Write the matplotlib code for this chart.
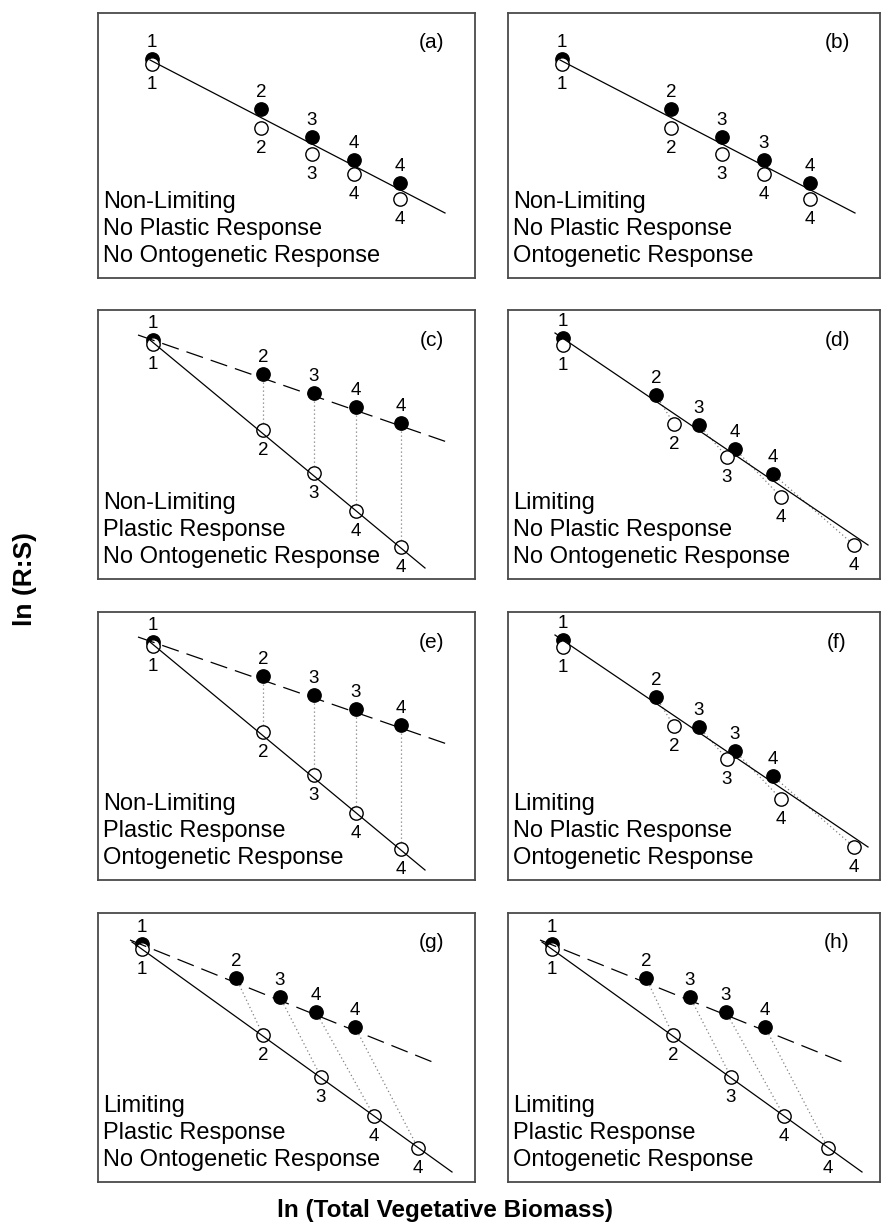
import matplotlib
matplotlib.use('Agg')
import matplotlib.pyplot as plt

plt.rcParams['font.family'] = ['Liberation Sans', 'DejaVu Sans']

FIG_W, FIG_H = 881, 1231

# ---------------- data (box-relative units, y measured downward) ----------------
PANEL_TAGS = ['(a)', '(b)', '(c)', '(d)', '(e)', '(f)', '(g)', '(h)']

A_FILLED_X = [54, 163, 214, 256, 302]
A_FILLED_Y = [46, 96, 124, 147, 170]
A_OPEN_X = [54, 163, 214, 256, 302]
A_OPEN_Y = [51, 115, 141, 161, 186]
A_FILLED_LABELS = ['1', '2', '3', '4', '4']
A_OPEN_LABELS = ['1', '2', '3', '4', '4']
A_SOLID = [(52, 47), (347, 200)]
A_TEXT = ['Non-Limiting', 'No Plastic Response', 'No Ontogenetic Response']

B_FILLED_X = [54, 163, 214, 256, 302]
B_FILLED_Y = [46, 96, 124, 147, 170]
B_OPEN_X = [54, 163, 214, 256, 302]
B_OPEN_Y = [51, 115, 141, 161, 186]
B_FILLED_LABELS = ['1', '2', '3', '3', '4']
B_OPEN_LABELS = ['1', '2', '3', '4', '4']
B_SOLID = [(52, 47), (347, 200)]
B_TEXT = ['Non-Limiting', 'No Plastic Response', 'Ontogenetic Response']

C_FILLED_X = [55, 165, 216, 258, 303]
C_FILLED_Y = [30, 64, 83, 97, 113]
C_OPEN_X = [55, 165, 216, 258, 303]
C_OPEN_Y = [34, 120, 163, 201, 237]
C_FILLED_LABELS = ['1', '2', '3', '4', '4']
C_OPEN_LABELS = ['1', '2', '3', '4', '4']
C_SOLID = [(52, 30), (327, 258)]
C_DASHED = [(40, 25), (349, 132)]
C_TEXT = ['Non-Limiting', 'Plastic Response', 'No Ontogenetic Response']

D_FILLED_X = [55, 148, 191, 227, 265]
D_FILLED_Y = [28, 85, 115, 139, 164]
D_OPEN_X = [55, 166, 219, 273, 346]
D_OPEN_Y = [35, 114, 147, 187, 235]
D_FILLED_LABELS = ['1', '2', '3', '4', '4']
D_OPEN_LABELS = ['1', '2', '3', '4', '4']
D_SOLID = [(47, 23), (360, 235)]
D_TEXT = ['Limiting', 'No Plastic Response', 'No Ontogenetic Response']

E_FILLED_X = [55, 165, 216, 258, 303]
E_FILLED_Y = [30, 64, 83, 97, 113]
E_OPEN_X = [55, 165, 216, 258, 303]
E_OPEN_Y = [34, 120, 163, 201, 237]
E_FILLED_LABELS = ['1', '2', '3', '3', '4']
E_OPEN_LABELS = ['1', '2', '3', '4', '4']
E_SOLID = [(52, 30), (327, 258)]
E_DASHED = [(40, 25), (349, 132)]
E_TEXT = ['Non-Limiting', 'Plastic Response', 'Ontogenetic Response']

F_FILLED_X = [55, 148, 191, 227, 265]
F_FILLED_Y = [28, 85, 115, 139, 164]
F_OPEN_X = [55, 166, 219, 273, 346]
F_OPEN_Y = [35, 114, 147, 187, 235]
F_FILLED_LABELS = ['1', '2', '3', '3', '4']
F_OPEN_LABELS = ['1', '2', '3', '4', '4']
F_SOLID = [(47, 23), (360, 235)]
F_TEXT = ['Limiting', 'No Plastic Response', 'Ontogenetic Response']

G_FILLED_X = [44, 138, 182, 218, 257]
G_FILLED_Y = [31, 65, 84, 99, 114]
G_OPEN_X = [44, 165, 223, 276, 320]
G_OPEN_Y = [36, 122, 164, 203, 235]
G_FILLED_LABELS = ['1', '2', '3', '4', '4']
G_OPEN_LABELS = ['1', '2', '3', '4', '4']
G_SOLID = [(34, 29), (354, 259)]
G_DASHED = [(32, 27), (337, 150)]
G_TEXT = ['Limiting', 'Plastic Response', 'No Ontogenetic Response']

H_FILLED_X = [44, 138, 182, 218, 257]
H_FILLED_Y = [31, 65, 84, 99, 114]
H_OPEN_X = [44, 165, 223, 276, 320]
H_OPEN_Y = [36, 122, 164, 203, 235]
H_FILLED_LABELS = ['1', '2', '3', '3', '4']
H_OPEN_LABELS = ['1', '2', '3', '4', '4']
H_SOLID = [(34, 29), (354, 259)]
H_DASHED = [(32, 27), (337, 150)]
H_TEXT = ['Limiting', 'Plastic Response', 'Ontogenetic Response']

# ---------------- layout (pixel boxes) ----------------
COL_X = [(98, 475), (508, 880)]
ROW_Y = [(13, 278), (310, 579), (612, 880), (913, 1182)]

fig = plt.figure(figsize=(FIG_W / 100, FIG_H / 100), dpi=100)


def make_ax(col, row):
    x0, x1 = COL_X[col]
    y0, y1 = ROW_Y[row]
    ax = fig.add_axes([x0 / FIG_W, 1 - y1 / FIG_H, (x1 - x0) / FIG_W, (y1 - y0) / FIG_H])
    ax.set_xlim(0, x1 - x0)
    ax.set_ylim(y1 - y0, 0)
    ax.set_xticks([])
    ax.set_yticks([])
    for s in ax.spines.values():
        s.set_color('#4a4a4a')
        s.set_linewidth(1.3)
    return ax, x1 - x0, y1 - y0


def draw_panel(col, row, tag, fx, fy, ox, oy, flab, olab, solid, text,
               dashed=None, connectors=False):
    ax, W, H = make_ax(col, row)
    if connectors:
        for i in range(1, len(fx)):
            ax.plot([fx[i], ox[i]], [fy[i], oy[i]], color='#808080', lw=0.9,
                    linestyle=(0, (1, 2.2)), zorder=2)
    ax.plot(fx, fy, 'o', ms=9.6, mfc='black', mec='black', mew=1.0, zorder=3)
    ax.plot(ox, oy, 'o', ms=9.6, mfc='white', mec='black', mew=1.0, zorder=4)
    (sx0, sy0), (sx1, sy1) = solid
    ax.plot([sx0, sx1], [sy0, sy1], color='black', lw=0.9, zorder=5)
    if dashed is not None:
        (dx0, dy0), (dx1, dy1) = dashed
        l, = ax.plot([dx0, dx1], [dy0, dy1], color='black', lw=0.9, zorder=5)
        l.set_dashes([14, 6.5])
    for x, y, s in zip(fx, fy, flab):
        ax.annotate(s, (x, y), xytext=(0, 12), textcoords='offset points',
                    ha='center', va='center', fontsize=13.5, zorder=6)
    for x, y, s in zip(ox, oy, olab):
        ax.annotate(s, (x, y), xytext=(0, -14.5), textcoords='offset points',
                    ha='center', va='center', fontsize=13.5, zorder=6)
    for k, t in enumerate(text):
        ax.text(5, H - 76 + 27 * k, t, ha='left', va='center', fontsize=17)
    ax.text(W - 43, 30, tag, ha='center', va='center', fontsize=15)
    return ax


draw_panel(0, 0, PANEL_TAGS[0], A_FILLED_X, A_FILLED_Y, A_OPEN_X, A_OPEN_Y,
           A_FILLED_LABELS, A_OPEN_LABELS, A_SOLID, A_TEXT)
draw_panel(1, 0, PANEL_TAGS[1], B_FILLED_X, B_FILLED_Y, B_OPEN_X, B_OPEN_Y,
           B_FILLED_LABELS, B_OPEN_LABELS, B_SOLID, B_TEXT)
draw_panel(0, 1, PANEL_TAGS[2], C_FILLED_X, C_FILLED_Y, C_OPEN_X, C_OPEN_Y,
           C_FILLED_LABELS, C_OPEN_LABELS, C_SOLID, C_TEXT, dashed=C_DASHED, connectors=True)
draw_panel(1, 1, PANEL_TAGS[3], D_FILLED_X, D_FILLED_Y, D_OPEN_X, D_OPEN_Y,
           D_FILLED_LABELS, D_OPEN_LABELS, D_SOLID, D_TEXT, connectors=True)
draw_panel(0, 2, PANEL_TAGS[4], E_FILLED_X, E_FILLED_Y, E_OPEN_X, E_OPEN_Y,
           E_FILLED_LABELS, E_OPEN_LABELS, E_SOLID, E_TEXT, dashed=E_DASHED, connectors=True)
draw_panel(1, 2, PANEL_TAGS[5], F_FILLED_X, F_FILLED_Y, F_OPEN_X, F_OPEN_Y,
           F_FILLED_LABELS, F_OPEN_LABELS, F_SOLID, F_TEXT, connectors=True)
draw_panel(0, 3, PANEL_TAGS[6], G_FILLED_X, G_FILLED_Y, G_OPEN_X, G_OPEN_Y,
           G_FILLED_LABELS, G_OPEN_LABELS, G_SOLID, G_TEXT, dashed=G_DASHED, connectors=True)
draw_panel(1, 3, PANEL_TAGS[7], H_FILLED_X, H_FILLED_Y, H_OPEN_X, H_OPEN_Y,
           H_FILLED_LABELS, H_OPEN_LABELS, H_SOLID, H_TEXT, dashed=H_DASHED, connectors=True)

fig.text(25 / FIG_W, 1 - 579 / FIG_H, 'ln (R:S)', rotation=90, ha='center', va='center',
         fontsize=19, fontweight='bold')
fig.text(445 / FIG_W, 1 - 1210 / FIG_H, 'ln (Total Vegetative Biomass)', ha='center',
         va='center', fontsize=17.5, fontweight='bold')

fig.savefig('out.png', dpi=100)
